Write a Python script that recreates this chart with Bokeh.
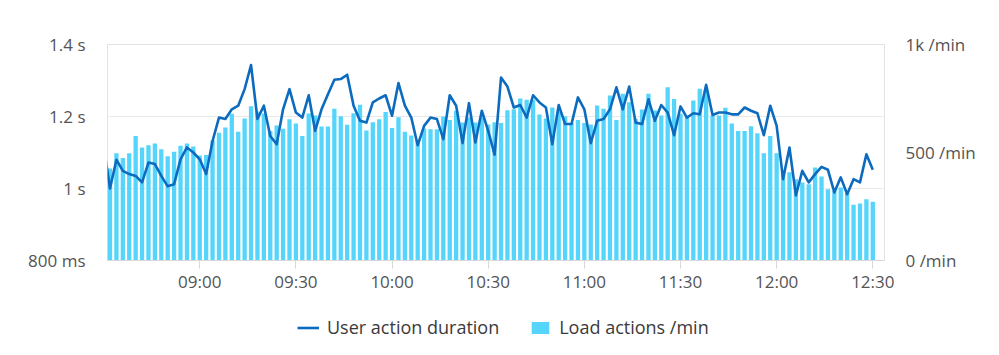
import pandas as pd
from bokeh.plotting import figure
from bokeh.layouts import column
from bokeh.models import (Range1d, LinearAxis, FixedTicker, ColumnDataSource,
                          Legend, LegendItem, DatetimeTickFormatter)
from bokeh.embed import file_html
from bokeh.resources import INLINE

# ---------------- data ----------------
day = "2024-01-01"
start_time = "08:30"
step = "2min"

load_per_min = [
    430,
    426, 497, 475, 497, 576, 523, 534, 542, 515, 483,
    503, 531, 542, 528, 486, 489, 555, 592, 616, 679,
    596, 657, 714, 690, 680,
    600, 625, 610,
    654, 634, 576, 680, 671, 620, 620, 702, 668, 628,
    682, 721, 602, 640, 654, 687, 614, 663, 596, 579,
    554, 611, 608, 608, 667, 650, 693, 639, 662, 639,
    662,
    630, 640,
    637, 696, 700, 750, 744, 745, 676, 657, 708, 690, 668, 637, 650,
    636, 630, 718, 702, 764, 651, 772, 733, 656, 699, 772, 694, 671, 802, 748,
    679, 664, 741, 795, 787, 671, 671, 707,
    634, 600, 600, 622, 589, 497, 576, 497, 415, 408,
    376, 361, 353, 430, 389, 330, 322, 338, 312, 258,
    264, 284, 272,
]

duration_ms = [
    1120,
    1000, 1080, 1049, 1040, 1035, 1017, 1072, 1068, 1035, 1006,
    1012, 1081, 1114, 1100, 1081, 1040, 1132, 1197, 1193, 1220,
    1230, 1276, 1343, 1193, 1230,
    1146, 1123, 1220, 1276, 1211, 1197, 1259, 1160, 1220, 1262,
    1302, 1304, 1316, 1230, 1188, 1183, 1239, 1250, 1259, 1202,
    1293, 1230, 1197, 1120, 1174,
    1197, 1193, 1137, 1259, 1230, 1126, 1237, 1128, 1216, 1160,
    1094, 1308, 1283, 1225, 1232, 1197, 1259, 1239, 1225, 1123,
    1232, 1179, 1179, 1253,
    1220, 1126, 1188, 1193, 1220, 1281, 1220, 1283, 1183, 1179,
    1248, 1188, 1232, 1211, 1148, 1228, 1197, 1209, 1206, 1288,
    1204, 1211, 1211, 1206,
    1206, 1225, 1216, 1209, 1148, 1230, 1174, 1026, 1114, 981,
    1049, 1017, 1040, 1060, 1052, 989, 1031, 984, 1026, 1017,
    1095, 1052,
]

x_tick_labels = ["09:00", "09:30", "10:00", "10:30", "11:00", "11:30", "12:00", "12:30"]
left_ticks = [800, 1000, 1200, 1400]
left_labels = ["800 ms", "1 s", "1.2 s", "1.4 s"]
right_ticks = [0, 500, 1000]
right_labels = ["0 /min", "500 /min", "1k /min"]
legend_labels = ["User action duration", "Load actions /min"]

view_start = "08:31:13"
view_end = "12:33:39"

# ---------------- build ----------------
times = pd.date_range(f"{day} {start_time}", periods=len(duration_ms), freq=step)
src = ColumnDataSource(dict(t=times, load=load_per_min, dur=duration_ms))

label_color = "#545454"
font = "Open Sans"
line_color = "#0c6bbf"
bar_color = "#55d5fb"
axis_font_size = "17px"
bar_w = 0.67 * pd.Timedelta(step).total_seconds() * 1000
x_view = (pd.Timestamp(f"{day} {view_start}"), pd.Timestamp(f"{day} {view_end}"))

p = figure(width=999, height=300, output_backend="svg", toolbar_location=None,
           x_axis_type="datetime",
           x_range=Range1d(*x_view),
           y_range=Range1d(800, 1400),
           min_border_left=107, min_border_right=115, min_border_top=44, min_border_bottom=40)
p.extra_y_ranges = {"load": Range1d(0, 1000)}

bars = p.vbar(x="t", top="load", width=bar_w, bottom=0, source=src, y_range_name="load",
              fill_color=bar_color, line_color=None)
line = p.line(x="t", y="dur", source=src, line_color=line_color, line_width=2.6,
              line_join="round")

# x axis
xax = p.xaxis[0]
xax.ticker = FixedTicker(ticks=[pd.Timestamp(f"{day} {l}").value // 10**6 for l in x_tick_labels])
xax.formatter = DatetimeTickFormatter(hours="%H:%M", minutes="%H:%M", hourmin="%H:%M")
xax.axis_line_color = "#d9d9d9"
xax.major_tick_line_color = "#d9d9d9"
xax.major_tick_out = 8
xax.major_tick_in = 0
xax.minor_tick_line_color = None
xax.major_label_standoff = 1
xax.major_label_text_font = font
xax.major_label_text_font_size = axis_font_size
xax.major_label_text_color = label_color

# left axis
yax = p.yaxis[0]
yax.ticker = FixedTicker(ticks=left_ticks)
yax.major_label_overrides = dict(zip(left_ticks, left_labels))
yax.axis_line_color = None
yax.major_tick_line_color = None
yax.major_tick_out = 0
yax.major_tick_in = 0
yax.minor_tick_line_color = None
yax.major_label_standoff = 22
yax.major_label_text_font = font
yax.major_label_text_font_size = axis_font_size
yax.major_label_text_color = label_color

# right axis
rax = LinearAxis(y_range_name="load", ticker=FixedTicker(ticks=right_ticks))
rax.major_label_overrides = dict(zip(right_ticks, right_labels))
rax.axis_line_color = None
rax.major_tick_line_color = None
rax.major_tick_out = 0
rax.major_tick_in = 0
rax.minor_tick_line_color = None
rax.major_label_standoff = 21
rax.major_label_text_font = font
rax.major_label_text_font_size = axis_font_size
rax.major_label_text_color = label_color
p.add_layout(rax, "right")

p.xgrid.grid_line_color = None
p.ygrid.grid_line_color = "#e9e9e9"
p.ygrid.ticker = FixedTicker(ticks=left_ticks)
p.outline_line_color = "#e3e3e3"
p.background_fill_color = "white"
p.border_fill_color = "white"

# legend strip below the chart; its swatch renderers share the data, but the strip's
# own y range lies far above all values, so the data stays out of view
pl = figure(width=999, height=55, output_backend="svg", toolbar_location=None,
            x_range=Range1d(*x_view), y_range=Range1d(50000, 50001), min_border=0,
            x_axis_location=None, y_axis_location=None)
pl.grid.visible = False
pl.outline_line_color = None
pl.border_fill_color = "white"
pl.background_fill_color = "white"
sw_line = pl.line(x="t", y="dur", source=src, line_color=line_color, line_width=2.6)
sw_bar = pl.vbar(x="t", top="load", bottom=0, width=bar_w, source=src,
                 fill_color=bar_color, line_color=None)
legend = Legend(items=[LegendItem(label=legend_labels[0], renderers=[sw_line]),
                       LegendItem(label=legend_labels[1], renderers=[sw_bar])],
                orientation="horizontal", location=(184, 10),
                label_text_font=font, label_text_font_size="18px", label_text_color="#3a3a3a",
                glyph_width=22, glyph_height=15, spacing=30, label_standoff=8,
                border_line_alpha=0, background_fill_alpha=0, padding=6, margin=0)
pl.add_layout(legend, "center")

layout = column(p, pl, spacing=0)
open("out.html", "w").write(file_html(layout, INLINE))
